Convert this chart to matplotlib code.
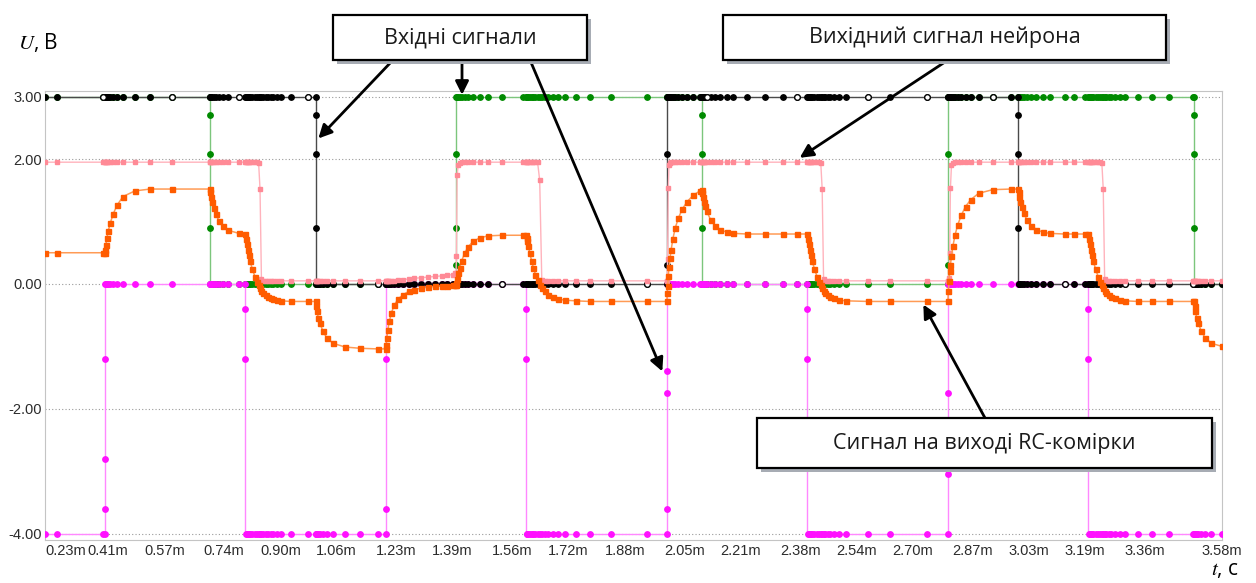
import numpy as np
import matplotlib.pyplot as plt
from matplotlib.patches import Rectangle
from matplotlib.transforms import IdentityTransform

plt.rcParams['font.family'] = ['Open Sans', 'DejaVu Sans']
plt.rcParams['mathtext.fontset'] = 'stix'

# simulator time steps, ms
t_ms = [
    0.230, 0.264, 0.395,
    0.400, 0.401, 0.403, 0.406, 0.410, 0.416, 0.424, 0.435, 0.452, 0.486, 0.529, 0.591,
    0.700, 0.701, 0.703, 0.706, 0.710, 0.716, 0.725, 0.736, 0.751, 0.782,
    0.800, 0.802, 0.804, 0.807, 0.810, 0.814, 0.820, 0.828, 0.834, 0.838, 0.842,
    0.846, 0.851, 0.858, 0.865, 0.872, 0.879, 0.889, 0.902, 0.930, 0.978,
    1.000, 1.002, 1.004, 1.008, 1.013, 1.021, 1.033, 1.050, 1.084, 1.127, 1.177,
    1.200, 1.201, 1.203, 1.206, 1.210, 1.216, 1.224, 1.235, 1.250, 1.265, 1.280,
    1.300, 1.320, 1.340, 1.360, 1.375, 1.390, 1.398,
    1.400, 1.401, 1.403, 1.406, 1.410, 1.416, 1.424, 1.434, 1.448, 1.468, 1.491, 1.530, 1.591,
    1.600, 1.601, 1.603, 1.606, 1.610, 1.615, 1.620, 1.626, 1.632, 1.638, 1.644,
    1.652, 1.662, 1.675, 1.690, 1.710, 1.740, 1.780, 1.840, 1.944,
    2.000, 2.001, 2.002, 2.004, 2.006, 2.009, 2.012, 2.017, 2.024, 2.033, 2.044, 2.058, 2.075, 2.094,
    2.100, 2.101, 2.103, 2.106, 2.109, 2.113, 2.125, 2.137, 2.152, 2.170, 2.189, 2.229, 2.280, 2.330, 2.370,
    2.400, 2.402, 2.404, 2.407, 2.410, 2.414, 2.420, 2.428, 2.434, 2.438, 2.442,
    2.446, 2.451, 2.458, 2.465, 2.475, 2.490, 2.510, 2.573, 2.636, 2.740,
    2.800, 2.801, 2.803, 2.805, 2.807, 2.810, 2.814, 2.820, 2.828, 2.838, 2.850, 2.865, 2.887, 2.927, 2.980,
    3.000, 3.001, 3.003, 3.006, 3.010, 3.016, 3.025, 3.037, 3.052, 3.070, 3.090, 3.132, 3.160, 3.190,
    3.200, 3.202, 3.204, 3.207, 3.210, 3.214, 3.220, 3.228, 3.234, 3.238, 3.242,
    3.246, 3.251, 3.258, 3.265, 3.275, 3.290, 3.305, 3.340, 3.380, 3.430, 3.498,
    3.500, 3.502, 3.504, 3.508, 3.513, 3.521, 3.533, 3.550, 3.580,
]

# RC-cell output, V
u_rc = [
    0.50, 0.50, 0.50,
    0.50, 0.54, 0.62, 0.73, 0.85, 0.98, 1.12, 1.26, 1.40, 1.49, 1.52, 1.52,
    1.52, 1.47, 1.40, 1.32, 1.22, 1.12, 1.01, 0.93, 0.86, 0.81,
    0.80, 0.72, 0.64, 0.55, 0.46, 0.36, 0.24, 0.11, 0.03, -0.02, -0.07,
    -0.11, -0.15, -0.18, -0.21, -0.22, -0.24, -0.26, -0.27, -0.28, -0.28,
    -0.28, -0.36, -0.44, -0.54, -0.63, -0.76, -0.87, -0.95, -1.01, -1.03, -1.04,
    -1.04, -0.97, -0.86, -0.73, -0.60, -0.46, -0.34, -0.24, -0.17, -0.12, -0.09,
    -0.07, -0.05, -0.04, -0.03, -0.025, -0.02, -0.02,
    -0.02, 0.02, 0.08, 0.17, 0.26, 0.37, 0.49, 0.59, 0.68, 0.74, 0.77, 0.78, 0.78,
    0.78, 0.74, 0.68, 0.60, 0.49, 0.37, 0.26, 0.15, 0.06, -0.01, -0.07,
    -0.12, -0.17, -0.21, -0.24, -0.26, -0.27, -0.28, -0.28, -0.28,
    -0.28, -0.15, -0.03, 0.12, 0.27, 0.42, 0.54, 0.72, 0.90, 1.06, 1.20, 1.32, 1.42, 1.49,
    1.50, 1.46, 1.40, 1.32, 1.25, 1.17, 1.02, 0.93, 0.87, 0.83, 0.81, 0.80, 0.80, 0.80, 0.80,
    0.80, 0.72, 0.64, 0.55, 0.46, 0.36, 0.24, 0.11, 0.03, -0.02, -0.07,
    -0.11, -0.15, -0.18, -0.21, -0.23, -0.26, -0.27, -0.28, -0.28, -0.28,
    -0.28, -0.12, 0.05, 0.20, 0.30, 0.45, 0.60, 0.78, 0.95, 1.10, 1.24, 1.35, 1.45, 1.51, 1.52,
    1.52, 1.47, 1.40, 1.32, 1.23, 1.13, 1.02, 0.93, 0.87, 0.83, 0.81, 0.80, 0.80, 0.80,
    0.80, 0.72, 0.64, 0.55, 0.46, 0.36, 0.24, 0.11, 0.03, -0.02, -0.07,
    -0.11, -0.15, -0.18, -0.21, -0.23, -0.26, -0.27, -0.28, -0.28, -0.28, -0.28,
    -0.28, -0.36, -0.44, -0.54, -0.63, -0.76, -0.87, -0.95, -1.00,
]

# neuron output, V
u_neuron = [
    1.95, 1.95, 1.95,
    1.95, 1.95, 1.95, 1.95, 1.95, 1.95, 1.95, 1.95, 1.95, 1.95, 1.95, 1.95,
    1.95, 1.95, 1.95, 1.95, 1.95, 1.95, 1.95, 1.95, 1.95, 1.95,
    1.95, 1.95, 1.95, 1.95, 1.95, 1.95, 1.95, 1.95, 1.95, 1.94, 1.52,
    0.08, 0.05, 0.05, 0.05, 0.05, 0.05, 0.05, 0.05, 0.05, 0.05,
    0.05, 0.05, 0.05, 0.05, 0.05, 0.05, 0.05, 0.05, 0.05, 0.05, 0.05,
    0.05, 0.05, 0.05, 0.05, 0.05, 0.05, 0.05, 0.06, 0.07, 0.08, 0.09,
    0.10, 0.11, 0.12, 0.13, 0.14, 0.15, 0.17,
    0.17, 0.45, 1.74, 1.90, 1.94, 1.95, 1.95, 1.95, 1.95, 1.95, 1.95, 1.95, 1.95,
    1.95, 1.95, 1.95, 1.95, 1.95, 1.95, 1.95, 1.95, 1.95, 1.66, 0.06,
    0.05, 0.05, 0.05, 0.05, 0.05, 0.05, 0.05, 0.05, 0.05,
    0.05, 0.05, 0.40, 1.53, 1.90, 1.94, 1.95, 1.95, 1.95, 1.95, 1.95, 1.95, 1.95, 1.95,
    1.95, 1.95, 1.95, 1.95, 1.95, 1.95, 1.95, 1.95, 1.95, 1.95, 1.95, 1.95, 1.95, 1.95, 1.95,
    1.95, 1.95, 1.95, 1.95, 1.95, 1.95, 1.95, 1.95, 1.95, 1.94, 1.52,
    0.08, 0.05, 0.05, 0.05, 0.05, 0.05, 0.05, 0.05, 0.05, 0.05,
    0.05, 0.05, 0.10, 0.50, 1.53, 1.90, 1.94, 1.95, 1.95, 1.95, 1.95, 1.95, 1.95, 1.95, 1.95,
    1.95, 1.95, 1.95, 1.95, 1.95, 1.95, 1.95, 1.95, 1.95, 1.95, 1.95, 1.95, 1.95, 1.95,
    1.95, 1.95, 1.95, 1.95, 1.95, 1.95, 1.95, 1.95, 1.95, 1.94, 1.52,
    0.08, 0.05, 0.05, 0.05, 0.05, 0.05, 0.05, 0.05, 0.05, 0.05, 0.05,
    0.05, 0.05, 0.05, 0.05, 0.05, 0.05, 0.05, 0.05, 0.05,
]

# digital inputs: switching times (ms), level before/after each edge (V),
# and the points the simulator logged while an edge was in progress
black_edges_ms = [1.0, 2.0, 3.0]
black_levels = [3.0, 0.0, 3.0, 0.0]
black_edge_dots = [[2.7, 2.08, 0.9], [0.3, 2.08], [2.7, 2.08, 0.9]]
black_open_ms = [0.395, 0.591, 0.782, 0.978, 1.177, 1.530, 1.944, 2.113,
                 2.370, 2.573, 2.740, 2.927, 3.132, 3.305, 3.498]

green_edges_ms = [0.7, 1.4, 2.1, 2.8, 3.5]
green_levels = [3.0, 0.0, 3.0, 0.0, 3.0, 0.0]
green_edge_dots = [[2.7, 2.08, 0.9], [0.3, 0.9, 2.08], [2.7, 2.08, 0.9],
                   [0.3, 2.08], [2.7, 2.08, 0.9]]

magenta_edges_ms = [0.4, 0.8, 1.2, 1.6, 2.0, 2.4, 2.8, 3.2]
magenta_levels = [-4.0, 0.0, -4.0, 0.0, -4.0, 0.0, -4.0, 0.0, -4.0]
magenta_edge_dots = [[-3.6, -2.8, -1.2], [-0.4, -1.2], [-3.6, -1.2], [-0.4, -1.2],
                     [-3.6, -1.75, -1.4], [-0.4, -1.2], [-3.04, -1.75], [-0.4, -1.2]]

x_ticks = [0.23, 0.41, 0.57, 0.74, 0.90, 1.06, 1.23, 1.39, 1.56, 1.72, 1.88,
           2.05, 2.21, 2.38, 2.54, 2.70, 2.87, 3.03, 3.19, 3.36, 3.58]
y_ticks = [3.0, 2.0, 0.0, -2.0, -4.0]

T0, T1 = 0.23, 3.58
W, H = 1256, 583


def levels_at(edges, levels, times):
    # value held by a digital source at each logged time step
    idx = np.searchsorted(edges, times, side='left')
    return np.asarray(levels)[idx]


def draw_input(ax, edges, levels, edge_dots, line_color, dot_color, z):
    ax.stairs(levels, [T0] + edges + [T1], baseline=None,
              color=line_color, lw=1.0, zorder=z)
    ts = np.asarray(t_ms)
    ax.plot(ts, levels_at(edges, levels, ts), ls='none', marker='o', ms=3.9,
            mfc=dot_color, mec=dot_color, zorder=z + 0.1)
    for e, dots in zip(edges, edge_dots):
        ax.plot([e] * len(dots), dots, ls='none', marker='o', ms=3.9,
                mfc=dot_color, mec=dot_color, zorder=z + 0.1)


fig = plt.figure(figsize=(W / 100, H / 100), dpi=100)
ax = fig.add_axes([45 / W, 1 - 540 / H, (1222 - 45) / W, (540 - 91) / H])
ax.set_xlim(T0, T1)
ax.set_ylim(-4.1, 3.09)

ax.set_yticks(y_ticks)
ax.set_yticklabels([f'{v:.2f}' for v in y_ticks])
ax.set_xticks(x_ticks)
ax.set_xticklabels([f'{v:.2f}m' for v in x_ticks])
ax.tick_params(length=0, labelsize=10.5, colors='#2b2b2b', pad=3)
ax.tick_params(axis='y', pad=2)
for lab in ax.get_xticklabels() + ax.get_yticklabels():
    lab.set_fontfamily(['Liberation Sans', 'DejaVu Sans'])
ax.get_xticklabels()[0].set_ha('left')
ax.grid(axis='y', ls=(0, (1, 2)), color='#9a9a9a', lw=0.8)
ax.set_axisbelow(True)
for sp in ax.spines.values():
    sp.set_color('#c4c4c4')

draw_input(ax, green_edges_ms, green_levels, green_edge_dots, '#7cc67c', '#008a00', 2)
draw_input(ax, magenta_edges_ms, magenta_levels, magenta_edge_dots, '#ff88ff', '#ff10ff', 3)
draw_input(ax, black_edges_ms, black_levels, black_edge_dots, '#4a4a4a', '#000000', 4)
ax.plot(black_open_ms, levels_at(black_edges_ms, black_levels, black_open_ms),
        ls='none', marker='o', ms=4.0, mfc='white', mec='#000000', mew=0.9, zorder=4.2)

ax.plot(t_ms, u_neuron, color='#ffb3bc', lw=1.0, marker='s', ms=3.4,
        mfc='#ff8a96', mec='#ff8a96', zorder=5)
ax.plot(t_ms, u_rc, color='#ff9b55', lw=1.1, marker='s', ms=3.6,
        mfc='#ff5c00', mec='#ff5c00', zorder=6)

# axis captions
fig.text(18 / W, 1 - 42 / H, '$U$, В', fontsize=15, ha='left', va='center')
fig.text(1211 / W, 1 - 570 / H, '$t$, с', fontsize=15, ha='left', va='center')


def callout(x0, y0, x1, y1, label):
    # boxes are placed in pixels measured from the top-left corner
    fig.add_artist(Rectangle((x0 + 4, H - y1 - 4), x1 - x0, y1 - y0, fc='#a7acb4',
                             ec='none', transform=IdentityTransform(), zorder=8))
    fig.add_artist(Rectangle((x0, H - y1), x1 - x0, y1 - y0, fc='white', ec='black',
                             lw=1.6, transform=IdentityTransform(), zorder=9))
    fig.text((x0 + x1) / 2 / W, 1 - (y0 + y1) / 2 / H, label, fontsize=15.5,
             ha='center', va='center', color='#1a1a1a', zorder=10)


def pointer(x_px, y_px, t, v):
    ax.annotate('', xy=(t, v), xycoords='data', xytext=(x_px, H - y_px),
                textcoords='figure pixels', annotation_clip=False, zorder=7,
                arrowprops=dict(arrowstyle='-|>', color='black', lw=2,
                                mutation_scale=20, shrinkA=0, shrinkB=0))


callout(333, 15, 587, 60, 'Вхідні сигнали')
callout(723, 15, 1166, 60, 'Вихідний сигнал нейрона')
callout(757, 418, 1212, 468, 'Сигнал на виході RC-комірки')

pointer(393, 60, 1.008, 2.33)
pointer(462, 60, 1.417, 3.03)
pointer(530, 60, 1.987, -1.40)
pointer(948, 60, 2.378, 2.02)
pointer(985, 418, 2.730, -0.33)

fig.savefig('out.png', dpi=100)
